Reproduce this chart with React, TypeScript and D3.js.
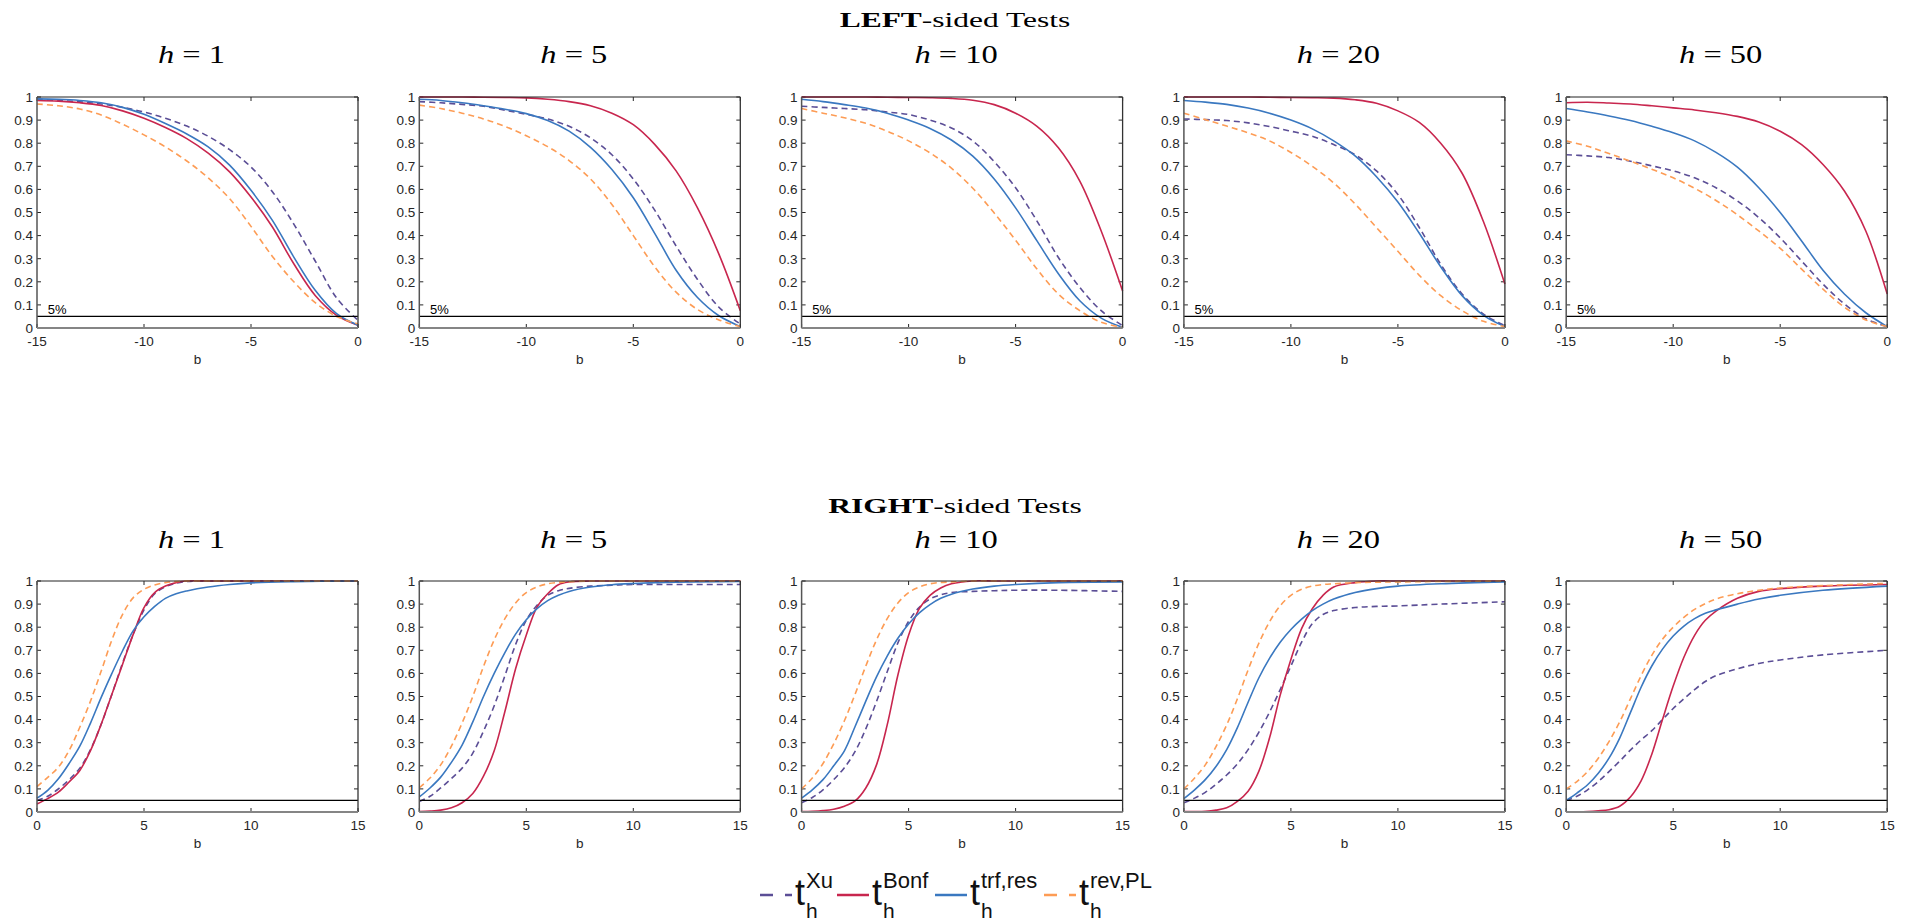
import React from 'react';
import * as d3 from 'd3';

// ---- data ----
const HORIZONS = [1, 5, 10, 20, 50];
const LEFT_B = [-15, -14, -13, -12, -11, -10, -9, -8, -7, -6, -5, -4, -3, -2, -1, 0];
const RIGHT_B = [0, 0.5, 1, 1.5, 2, 2.5, 3, 3.5, 4, 4.5, 5, 5.5, 6, 6.5, 7, 8, 9, 10, 12, 15];
const Y_TICKS = [0, 0.1, 0.2, 0.3, 0.4, 0.5, 0.6, 0.7, 0.8, 0.9, 1];
const LEFT_X_TICKS = [-15, -10, -5, 0];
const RIGHT_X_TICKS = [0, 5, 10, 15];

// left-sided tests, one row per horizon
const LEFT_XU = [
  [0.99, 0.985, 0.979, 0.97, 0.955, 0.935, 0.908, 0.874, 0.83, 0.772, 0.697, 0.59, 0.45, 0.29, 0.13, 0.033],
  [0.98, 0.975, 0.968, 0.96, 0.943, 0.925, 0.905, 0.873, 0.823, 0.75, 0.645, 0.51, 0.355, 0.21, 0.09, 0.017],
  [0.96, 0.955, 0.95, 0.945, 0.935, 0.924, 0.9, 0.866, 0.81, 0.72, 0.607, 0.463, 0.305, 0.176, 0.075, 0.01],
  [0.905, 0.902, 0.898, 0.888, 0.872, 0.852, 0.83, 0.794, 0.75, 0.68, 0.578, 0.435, 0.276, 0.147, 0.06, 0.01],
  [0.75, 0.745, 0.738, 0.722, 0.702, 0.68, 0.65, 0.607, 0.55, 0.478, 0.39, 0.29, 0.19, 0.104, 0.04, 0.006],
];
const LEFT_BONF = [
  [0.985, 0.982, 0.975, 0.963, 0.94, 0.908, 0.868, 0.82, 0.757, 0.676, 0.567, 0.437, 0.278, 0.141, 0.055, 0.012],
  [1, 1, 1, 0.999, 0.998, 0.996, 0.99, 0.98, 0.962, 0.93, 0.88, 0.795, 0.68, 0.52, 0.32, 0.075],
  [1, 1, 1, 1, 0.999, 0.998, 0.997, 0.994, 0.986, 0.967, 0.93, 0.873, 0.78, 0.636, 0.42, 0.16],
  [1, 1, 1, 1, 0.999, 0.998, 0.997, 0.995, 0.988, 0.973, 0.94, 0.89, 0.8, 0.67, 0.46, 0.19],
  [0.975, 0.977, 0.974, 0.97, 0.962, 0.953, 0.944, 0.932, 0.916, 0.892, 0.852, 0.794, 0.708, 0.593, 0.42, 0.147],
];
const LEFT_TRF = [
  [0.992, 0.99, 0.985, 0.975, 0.955, 0.925, 0.885, 0.84, 0.784, 0.705, 0.596, 0.466, 0.307, 0.163, 0.062, 0.012],
  [0.99, 0.985, 0.975, 0.962, 0.947, 0.928, 0.898, 0.852, 0.782, 0.686, 0.564, 0.41, 0.25, 0.132, 0.053, 0.006],
  [0.99, 0.98, 0.967, 0.952, 0.93, 0.9, 0.864, 0.814, 0.744, 0.645, 0.52, 0.377, 0.235, 0.118, 0.043, 0.003],
  [0.985, 0.978, 0.968, 0.952, 0.93, 0.9, 0.862, 0.81, 0.745, 0.655, 0.545, 0.41, 0.265, 0.14, 0.055, 0.006],
  [0.95, 0.935, 0.918, 0.898, 0.873, 0.845, 0.81, 0.76, 0.696, 0.607, 0.5, 0.377, 0.25, 0.147, 0.066, 0.006],
];
const LEFT_REV = [
  [0.97, 0.962, 0.948, 0.922, 0.882, 0.836, 0.784, 0.723, 0.65, 0.56, 0.44, 0.31, 0.2, 0.11, 0.05, 0.018],
  [0.965, 0.95, 0.93, 0.905, 0.873, 0.832, 0.785, 0.725, 0.645, 0.535, 0.4, 0.265, 0.155, 0.08, 0.035, 0.005],
  [0.95, 0.93, 0.91, 0.886, 0.852, 0.81, 0.758, 0.692, 0.605, 0.498, 0.38, 0.255, 0.147, 0.075, 0.025, 0.003],
  [0.93, 0.902, 0.874, 0.845, 0.81, 0.76, 0.7, 0.628, 0.537, 0.435, 0.332, 0.228, 0.14, 0.075, 0.029, 0.006],
  [0.81, 0.787, 0.755, 0.722, 0.687, 0.65, 0.605, 0.552, 0.49, 0.42, 0.345, 0.255, 0.168, 0.09, 0.035, 0.006],
];

// right-sided tests
const RIGHT_XU = [
  [0.05, 0.068, 0.1, 0.14, 0.19, 0.27, 0.38, 0.51, 0.645, 0.77, 0.875, 0.945, 0.975, 0.99, 0.998, 1, 1, 1, 1, 1],
  [0.045, 0.068, 0.104, 0.145, 0.19, 0.255, 0.35, 0.46, 0.59, 0.725, 0.83, 0.895, 0.938, 0.958, 0.968, 0.978, 0.982, 0.985, 0.985, 0.985],
  [0.04, 0.063, 0.096, 0.14, 0.192, 0.262, 0.36, 0.478, 0.607, 0.732, 0.825, 0.886, 0.922, 0.94, 0.95, 0.955, 0.958, 0.96, 0.96, 0.955],
  [0.04, 0.06, 0.085, 0.12, 0.16, 0.208, 0.27, 0.345, 0.432, 0.53, 0.632, 0.735, 0.815, 0.855, 0.872, 0.885, 0.89, 0.892, 0.9, 0.91],
  [0.05, 0.068, 0.096, 0.132, 0.175, 0.22, 0.268, 0.312, 0.352, 0.4, 0.448, 0.49, 0.53, 0.565, 0.59, 0.62, 0.643, 0.658, 0.68, 0.7],
];
const RIGHT_BONF = [
  [0.035, 0.058, 0.086, 0.13, 0.18, 0.266, 0.38, 0.51, 0.64, 0.77, 0.885, 0.95, 0.978, 0.993, 1, 1, 1, 1, 1, 1],
  [0.002, 0.004, 0.008, 0.018, 0.04, 0.08, 0.155, 0.265, 0.435, 0.62, 0.766, 0.887, 0.945, 0.984, 0.996, 1, 1, 1, 1, 1],
  [0.002, 0.003, 0.006, 0.012, 0.025, 0.048, 0.104, 0.204, 0.377, 0.593, 0.765, 0.88, 0.938, 0.97, 0.988, 1, 1, 1, 1, 1],
  [0.002, 0.002, 0.003, 0.008, 0.018, 0.046, 0.09, 0.176, 0.32, 0.506, 0.66, 0.794, 0.88, 0.938, 0.974, 0.993, 1, 1, 1, 1],
  [0.001, 0.001, 0.002, 0.005, 0.01, 0.025, 0.065, 0.135, 0.25, 0.4, 0.545, 0.67, 0.765, 0.83, 0.87, 0.925, 0.955, 0.967, 0.978, 0.985],
];
const RIGHT_TRF = [
  [0.06, 0.094, 0.144, 0.21, 0.285, 0.385, 0.496, 0.6, 0.698, 0.785, 0.845, 0.89, 0.925, 0.945, 0.957, 0.974, 0.985, 0.992, 0.997, 1],
  [0.065, 0.104, 0.151, 0.215, 0.29, 0.39, 0.5, 0.6, 0.69, 0.77, 0.832, 0.88, 0.915, 0.938, 0.955, 0.974, 0.984, 0.989, 0.995, 0.998],
  [0.06, 0.096, 0.14, 0.2, 0.265, 0.37, 0.48, 0.585, 0.675, 0.752, 0.814, 0.862, 0.898, 0.925, 0.943, 0.965, 0.978, 0.985, 0.993, 0.996],
  [0.058, 0.096, 0.14, 0.197, 0.27, 0.365, 0.475, 0.58, 0.665, 0.735, 0.79, 0.835, 0.872, 0.9, 0.922, 0.95, 0.967, 0.978, 0.988, 0.996],
  [0.05, 0.082, 0.118, 0.168, 0.233, 0.32, 0.43, 0.54, 0.632, 0.705, 0.762, 0.805, 0.837, 0.86, 0.875, 0.9, 0.922, 0.938, 0.96, 0.978],
];
const RIGHT_REV = [
  [0.11, 0.15, 0.194, 0.266, 0.367, 0.48, 0.61, 0.745, 0.856, 0.928, 0.964, 0.983, 0.993, 0.998, 1, 1, 1, 1, 1, 1],
  [0.105, 0.147, 0.204, 0.285, 0.385, 0.5, 0.63, 0.745, 0.837, 0.905, 0.95, 0.974, 0.988, 0.994, 0.997, 1, 1, 1, 1, 1],
  [0.1, 0.147, 0.21, 0.295, 0.395, 0.51, 0.632, 0.745, 0.837, 0.905, 0.95, 0.974, 0.988, 0.994, 0.996, 1, 1, 1, 1, 1],
  [0.1, 0.147, 0.204, 0.283, 0.377, 0.49, 0.615, 0.73, 0.823, 0.893, 0.938, 0.964, 0.978, 0.985, 0.988, 0.993, 0.995, 0.996, 0.998, 1],
  [0.1, 0.132, 0.175, 0.233, 0.305, 0.39, 0.49, 0.59, 0.678, 0.748, 0.8, 0.843, 0.877, 0.902, 0.922, 0.945, 0.96, 0.97, 0.98, 0.99],
];

const SERIES = [
  { name: 'Xu', color: '#5b4e96', dash: '6,4', left: LEFT_XU, right: RIGHT_XU },
  { name: 'Bonf', color: '#c8264e', dash: null, left: LEFT_BONF, right: RIGHT_BONF },
  { name: 'trf,res', color: '#3a78c0', dash: null, left: LEFT_TRF, right: RIGHT_TRF },
  { name: 'rev,PL', color: '#fd9c55', dash: '6,4', left: LEFT_REV, right: RIGHT_REV },
];
const LEVEL = 0.05;

// ---- layout ----
const W = 1914, H = 922;
const PW = 321, PH = 231;
const X0 = 37, DX = 382.3;
const ROWS = [
  { side: 'left', top: 97, label: 'LEFT', titleY: 27, hY: 63 },
  { side: 'right', top: 581, label: 'RIGHT', titleY: 513, hY: 548 },
];
const LEGEND_X = [760, 837, 935, 1044];

const sans = '"Liberation Sans", Arial, sans-serif';
const serif = '"Liberation Serif", "Times New Roman", serif';

function Panel({ x0, y0, side, idx }) {
  const isLeft = side === 'left';
  const bs = isLeft ? LEFT_B : RIGHT_B;
  const x = d3.scaleLinear().domain(isLeft ? [-15, 0] : [0, 15]).range([x0, x0 + PW]);
  const y = d3.scaleLinear().domain([0, 1]).range([y0 + PH, y0]);
  const xTicks = isLeft ? LEFT_X_TICKS : RIGHT_X_TICKS;
  const line = d3.line<number>()
    .x((d, i) => x(bs[i]))
    .y(d => y(Math.min(1, d)))
    .curve(d3.curveCatmullRom.alpha(0.5));
  const tk = 4;

  return (
    <g>
      {/* ticks */}
      {xTicks.map(t => (
        <g key={'x' + t} stroke="#262626" strokeWidth={1}>
          <line x1={x(t)} x2={x(t)} y1={y0 + PH} y2={y0 + PH - tk} />
          <line x1={x(t)} x2={x(t)} y1={y0} y2={y0 + tk} />
        </g>
      ))}
      {Y_TICKS.map(t => (
        <g key={'y' + t} stroke="#262626" strokeWidth={1}>
          <line x1={x0} x2={x0 + tk} y1={y(t)} y2={y(t)} />
          <line x1={x0 + PW} x2={x0 + PW - tk} y1={y(t)} y2={y(t)} />
        </g>
      ))}
      {/* curves */}
      {SERIES.map(s => (
        <path key={s.name} d={line(s[side][idx]) || ''} fill="none" stroke={s.color}
          strokeWidth={1.6} strokeDasharray={s.dash || undefined} />
      ))}
      {/* 5% line */}
      <line x1={x0} x2={x0 + PW} y1={y(LEVEL)} y2={y(LEVEL)} stroke="#000" strokeWidth={1.3} />
      {isLeft && (
        <text x={x(-14.5)} y={y(LEVEL) - 2} fontFamily={sans} fontSize={13} fill="#000">5%</text>
      )}
      {/* box */}
      <line x1={x0} x2={x0 + PW} y1={y0} y2={y0} stroke="#222" strokeWidth={1} />
      <line x1={x0 + PW} x2={x0 + PW} y1={y0} y2={y0 + PH} stroke="#333" strokeWidth={1.3} />
      <line x1={x0} x2={x0} y1={y0} y2={y0 + PH} stroke="#555" strokeWidth={1.5} />
      <line x1={x0} x2={x0 + PW} y1={y0 + PH} y2={y0 + PH} stroke="#858585" strokeWidth={2} />
      {/* tick labels */}
      {Y_TICKS.map(t => (
        <text key={'yl' + t} x={x0 - 4} y={y(t)} dy="0.36em" textAnchor="end"
          fontFamily={sans} fontSize={13.5} fill="#262626">{d3.format('~g')(t)}</text>
      ))}
      {xTicks.map(t => (
        <text key={'xl' + t} x={x(t)} y={y0 + PH + 18} textAnchor="middle"
          fontFamily={sans} fontSize={13.5} fill="#262626">{String(t)}</text>
      ))}
      <text x={x0 + PW / 2} y={y0 + PH + 36} textAnchor="middle" fontFamily={sans}
        fontSize={13.5} fill="#262626">b</text>
    </g>
  );
}

export default function App() {
  return (
    <svg width={W} height={H} style={{ position: 'absolute', left: 0, top: 0, background: '#fff' }}>
      {ROWS.map(row => (
        <g key={row.side}>
          <text transform={`translate(${W / 2 - 2},${row.titleY}) scale(1.5,1)`} textAnchor="middle"
            fontFamily={serif} fontSize={21} fill="#000">
            <tspan fontWeight="bold">{row.label}</tspan>
            <tspan>-sided Tests</tspan>
          </text>
          {HORIZONS.map((h, i) => {
            const x0 = X0 + i * DX;
            return (
              <g key={h}>
                <text transform={`translate(${x0 + PW / 2 - 6},${row.hY}) scale(1.3,1)`} textAnchor="middle"
                  fontFamily={serif} fontSize={25} fill="#000">
                  <tspan fontStyle="italic">h</tspan>
                  <tspan> = {h}</tspan>
                </text>
                <Panel x0={x0} y0={row.top} side={row.side} idx={i} />
              </g>
            );
          })}
        </g>
      ))}
      {/* legend */}
      {SERIES.map((s, i) => {
        const lx = LEGEND_X[i];
        return (
          <g key={s.name}>
            <line x1={lx} x2={lx + 32} y1={895} y2={895} stroke={s.color} strokeWidth={2.5}
              strokeDasharray={s.dash ? '13,12' : undefined} />
            <text x={lx + 35} y={905} fontFamily={sans} fontSize={36} fill="#111">t</text>
            <text x={lx + 46} y={888} fontFamily={sans} fontSize={22} fill="#111">{s.name}</text>
            <text x={lx + 46} y={918} fontFamily={sans} fontSize={21} fill="#111">h</text>
          </g>
        );
      })}
    </svg>
  );
}
